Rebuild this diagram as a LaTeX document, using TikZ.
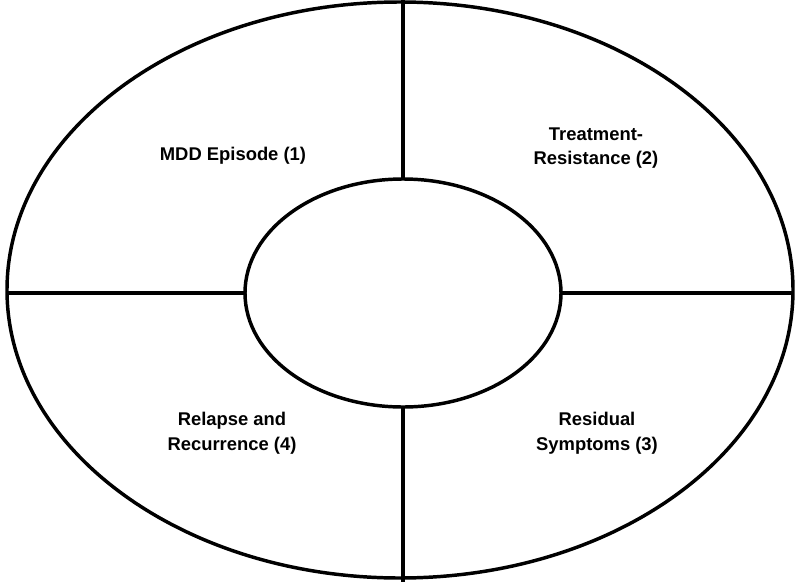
\documentclass[tikz,border=0pt]{standalone}
\usepackage{fontspec}
\setmainfont{Liberation Sans}
\usetikzlibrary{shapes.geometric}

\tikzset{
    ring/.style={draw, ellipse, line width=2.6pt, inner sep=0pt, outer sep=0pt},
    phase/.style={font=\bfseries\fontsize{13.8}{18.6}\selectfont, align=center, inner sep=0pt},
    divider/.style={line width=2.6pt}
}

\begin{document}
\begin{tikzpicture}[x=0.75pt, y=-0.75pt]
    % Khung hình theo ảnh gốc
    \useasboundingbox (0,0) rectangle (797,582);

    % 1. Hai hình elip (ngoài và trong)
    \node[ring, minimum width=589.5pt, minimum height=432pt] (outer) at (400,290) {};
    \node[ring, minimum width=237pt, minimum height=171pt] (inner) at (403,293) {};

    % 2. Các đường chia bốn phần
    \coordinate (top) at (403,0);
    \coordinate (bot) at (403,582);
    \draw[divider] (top) -- (inner.north);
    \draw[divider] (inner.south) -- (bot);
    \draw[divider] (outer.west |- inner.west) -- (inner.west);
    \draw[divider] (inner.east) -- (outer.east |- inner.east);

    % 3. Nhãn bốn giai đoạn
    \node[phase] (mdd) at (233,156) {MDD Episode (1)};
    \node[phase] (trd) at (596,148) {Treatment-\\Resistance (2)};
    \node[phase] (res) at (597,433) {Residual\\Symptoms (3)};
    \node[phase] (rel) at (232,433) {Relapse and\\Recurrence (4)};
\end{tikzpicture}
\end{document}
